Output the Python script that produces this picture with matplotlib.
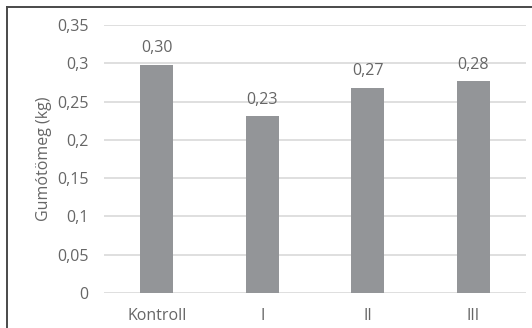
import matplotlib
matplotlib.use("Agg")
import matplotlib.pyplot as plt
from matplotlib.lines import Line2D

plt.rcParams['font.family'] = ['Open Sans', 'DejaVu Sans']

categories = ["Kontroll", "I", "II", "III"]
values = [0.298, 0.231, 0.268, 0.277]
y_ticks = [0, 0.05, 0.1, 0.15, 0.2, 0.25, 0.3, 0.35]
y_tick_labels = ["0", "0,05", "0,1", "0,15", "0,2", "0,25", "0,3", "0,35"]
y_label = "Gumótömeg (kg)"

text_color = "#666666"
bar_color = "#939598"
grid_color = "#d9d9d9"
fs = 11.5

fig = plt.figure(figsize=(5.32, 3.28), dpi=100)
ax = fig.add_axes([0.1955, 0.1067, 0.7932, 0.8171])

x = range(len(categories))
ax.bar(x, values, width=0.31, color=bar_color, zorder=3)

for xi, v in zip(x, values):
    ax.annotate(f"{v:.2f}".replace(".", ","), (xi, v), xytext=(0, 6),
                textcoords="offset points", ha="center", va="bottom",
                fontsize=fs, color=text_color)

ax.set_xlim(-0.5, len(categories) - 0.5)
ax.set_ylim(0, 0.35)
ax.set_yticks(y_ticks)
ax.set_yticklabels(y_tick_labels)
ax.set_xticks(list(x))
ax.set_xticklabels(categories)
ax.tick_params(axis="both", length=0, labelsize=fs, colors=text_color)
ax.tick_params(axis="y", pad=11)
ax.tick_params(axis="x", pad=11)
ax.set_ylabel(y_label, fontsize=fs, color=text_color, labelpad=4)

ax.grid(axis="y", color=grid_color, linewidth=1.2, zorder=0)
for s in ax.spines.values():
    s.set_visible(False)

# frame along the top and left edges of the figure
fig.add_artist(Line2D([0.0132, 1.0], [0.9787, 0.9787], transform=fig.transFigure,
                      color="#4a4a4a", linewidth=1.4))
fig.add_artist(Line2D([0.0132, 0.0132], [0.0, 0.9787], transform=fig.transFigure,
                      color="#4a4a4a", linewidth=1.4))

fig.savefig("out.png", dpi=100)
